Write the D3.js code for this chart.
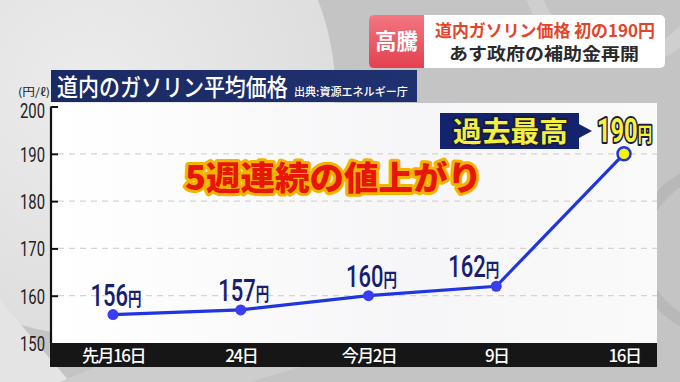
<!DOCTYPE html>
<html><head><meta charset="utf-8">
<script src="https://cdn.jsdelivr.net/npm/d3@7"></script>
<style>
html,body{margin:0;padding:0;background:#cfcfcf;}
svg{display:block;}
</style></head>
<body>
<script>
const categories = ["先月16日", "24日", "今月2日", "9日", "16日"];
const prices = [156, 157, 160, 162, 190];
const yTicks = [150, 160, 170, 180, 190, 200];
const titleText = "道内のガソリン平均価格";
const sourceText = "出典:資源エネルギー庁";
const unitText = "(円/ℓ)";
const badgeTag = "高騰";
const badgeLine1 = "道内ガソリン価格 初の190円";
const badgeLine2 = "あす政府の補助金再開";
const callout = "5週連続の値上がり";
const recordText = "過去最高";
const yenText = "円";

const W = 680, H = 382;
const JP = "'Noto Sans CJK JP','Noto Sans',sans-serif";
const NUM = "'Roboto','Noto Sans',sans-serif";

const svg = d3.select("body").append("svg").attr("width", W).attr("height", H);
const defs = svg.append("defs");

// text squeezed horizontally to a given width (via transform)
function fitText(parent, str, xPos, yPos, width, style) {
  const g = parent.append("g");
  const layers = style.outline ? [[style.outline, style.sw || 4], [style.fill, 0]] : [[style.fill, 0]];
  let t;
  layers.forEach(([col, sw]) => {
    t = g.append("text").attr("x",0).attr("y",0).text(str)
      .attr("font-family", style.family || JP).attr("font-size", style.size).attr("font-weight", style.weight || 400)
      .attr("fill", sw ? "none" : col).attr("stroke", sw ? col : "none")
      .attr("stroke-width", sw).attr("stroke-linejoin","round");
  });
  const s = width / t.node().getComputedTextLength();
  g.attr("transform", `translate(${xPos},${yPos}) scale(${s},1)`);
  return g;
}

// background
svg.append("rect").attr("width",W).attr("height",H).attr("fill","#c4c4c4");
const rg = defs.append("radialGradient").attr("id","lightc");
rg.append("stop").attr("offset","0%").attr("stop-color","#ececec");
rg.append("stop").attr("offset","100%").attr("stop-color","#dedede");
svg.append("circle").attr("cx",90).attr("cy",90).attr("r",245).attr("fill","url(#lightc)");
svg.append("path").attr("d","M0,382 L0,300 L70,382 Z").attr("fill","#e4e4e4");
svg.append("path").attr("d","M60,382 L95,367 L300,367 L250,382 Z").attr("fill","#cdcdcd");
svg.append("circle").attr("cx",720).attr("cy",250).attr("r",80).attr("fill","none").attr("stroke","#b4b4b4").attr("stroke-width",12).attr("opacity",0.7);
svg.append("circle").attr("cx",620).attr("cy",-30).attr("r",90).attr("fill","none").attr("stroke","#d4d4d4").attr("stroke-width",16).attr("opacity",0.7);

// scales
const x = d3.scalePoint().domain(categories).range([113, 624]);
const y = d3.scaleLinear().domain([150, 200]).range([343, 106.5]);
const left = 51, right = 657;

// plot panel
const pg = defs.append("linearGradient").attr("id","pg").attr("x1",0).attr("y1",0).attr("x2",1).attr("y2",0);
pg.append("stop").attr("offset","0%").attr("stop-color","#ffffff");
pg.append("stop").attr("offset","60%").attr("stop-color","#f6f6f8");
pg.append("stop").attr("offset","100%").attr("stop-color","#fafafa");
svg.append("rect").attr("x",left).attr("y",103).attr("width",right-left).attr("height",343-103).attr("fill","url(#pg)");

// grid
svg.append("g").selectAll("line").data(yTicks.filter(t => t > 150 && t < 200)).join("line")
  .attr("x1", left+7).attr("x2", right).attr("y1", d => y(d)).attr("y2", d => y(d))
  .attr("stroke","#d4d4d4").attr("stroke-width",1.2).attr("stroke-dasharray","6,5");

// y axis
const yAxis = d3.axisLeft(y).tickValues(yTicks).tickSize(-7).tickPadding(6).tickFormat(d3.format("d"));
const ya = svg.append("g").attr("transform",`translate(${left},0)`).call(yAxis);
ya.select(".domain").attr("stroke","#111").attr("stroke-width",2.2).attr("d",`M0,${y(150)}V${y(200)}`);
ya.selectAll(".tick line").attr("stroke","#111").attr("stroke-width",2);
ya.selectAll(".tick").filter(d => d === 150).select("line").remove();
ya.selectAll(".tick text").attr("x",-6).attr("fill","#222").attr("font-family",NUM).attr("font-size",21)
  .attr("dy","0.36em").attr("textLength",25).attr("lengthAdjust","spacingAndGlyphs");
ya.selectAll(".tick").filter(d => d === 200).select("text").attr("dy","0.5em");
fitText(svg, unitText, 18, 96, 32, {fill:"#222", size:11});

// x axis bar
svg.append("rect").attr("x",left-1).attr("y",343).attr("width",right-left+1).attr("height",24).attr("fill","#161616");
const xAxis = d3.axisBottom(x).tickSize(0).tickPadding(0);
const xa = svg.append("g").attr("transform","translate(0,355.5)").call(xAxis);
xa.select(".domain").remove();
xa.selectAll(".tick text").attr("fill","#fff").attr("font-family",JP).attr("font-size",17).attr("font-weight",500)
  .attr("dy","0.36em").attr("letter-spacing","-1.5px");

// line
const pts = categories.map((c,i) => ({c, v: prices[i]}));
svg.append("path").datum(pts)
  .attr("d", d3.line().x(d => x(d.c)).y(d => y(d.v)))
  .attr("fill","none").attr("stroke","#1f35e0").attr("stroke-width",3.2);
svg.append("g").selectAll("circle").data(pts.slice(0,-1)).join("circle")
  .attr("cx", d => x(d.c)).attr("cy", d => y(d.v)).attr("r",5.5).attr("fill","#3b3ef0");
const last = pts[pts.length-1];
svg.append("circle").attr("cx",x(last.c)).attr("cy",y(last.v)).attr("r",6.5)
  .attr("fill","#f2f20a").attr("stroke","#1f35e0").attr("stroke-width",2.5);

// condensed value label: number + 円 in one text, horizontally squeezed
function valueLabel(parent, v, xPos, baseY, anchor, opts) {
  const g = parent.append("g");
  const layers = opts.outline ? [[opts.outline, 4], [opts.fill, 0]] : [[opts.fill, 0]];
  const texts = layers.map(([col, sw]) => {
    const t = g.append("text").attr("x",0).attr("y",0)
      .attr("fill", sw ? "none" : col).attr("stroke", sw ? col : "none")
      .attr("stroke-width", sw).attr("stroke-linejoin","round");
    t.append("tspan").text(v).attr("font-family", NUM).attr("font-size", opts.size).attr("font-weight", opts.weight || 500);
    t.append("tspan").text(yenText).attr("font-family", JP).attr("font-size", opts.yen || 19).attr("font-weight", 700);
    return t;
  });
  const natural = texts[texts.length-1].node().getComputedTextLength();
  const s = opts.width / natural;
  const x0 = anchor === "end" ? xPos - opts.width : anchor === "middle" ? xPos - opts.width/2 : xPos;
  g.attr("transform", `translate(${x0},${baseY}) scale(${s},1)`);
}

const lab = svg.append("g");
pts.slice(0,-1).forEach((d,i) => {
  const isLeft = i === pts.length-2;
  valueLabel(lab, d.v, x(d.c) + 3, y(d.v) - 9, isLeft ? "end" : "middle", {fill:"#17206e", size:31, width:51});
});

// title bar
const tb = defs.append("linearGradient").attr("id","tb").attr("x1",0).attr("y1",0).attr("x2",1).attr("y2",0);
tb.append("stop").attr("offset","0%").attr("stop-color","#1a2a63");
tb.append("stop").attr("offset","100%").attr("stop-color","#1f3170");
svg.append("rect").attr("x",left).attr("y",70).attr("width",417-left).attr("height",32).attr("fill","url(#tb)");
fitText(svg, titleText, 57, 95.5, 231, {fill:"#fff", size:24, weight:500});
fitText(svg, sourceText, 294, 96, 114, {fill:"#fff", size:11.5, weight:500});

// callout text
fitText(svg, callout, 185, 190, 297, {fill:"#e81509", outline:"#f3b400", sw:6, size:33.5, weight:900});

// record box
svg.append("path").attr("d","M440,113 H579 V124 L592,131 L579,138 V149 H440 Z").attr("fill","#14236e");
fitText(svg, recordText, 453, 142, 115, {fill:"#f2f043", outline:"#1b1b40", sw:4, size:28, weight:700});
valueLabel(svg.append("g"), last.v, 597, 142, "start", {fill:"#f5f23a", outline:"#1b1b40", size:33, weight:700, yen:20, width:55});

// badge
const bgr = defs.append("linearGradient").attr("id","bgr").attr("x1",0).attr("y1",0).attr("x2",0).attr("y2",1);
bgr.append("stop").attr("offset","0%").attr("stop-color","#f37782");
bgr.append("stop").attr("offset","100%").attr("stop-color","#e2404f");
svg.append("rect").attr("x",369).attr("y",15).attr("width",296).attr("height",53).attr("rx",5).attr("fill","#ffffff");
svg.append("path").attr("d","M374,15 H424 V68 H374 Q369,68 369,63 V20 Q369,15 374,15 Z").attr("fill","url(#bgr)");
svg.append("text").attr("x",396.5).attr("y",49).attr("text-anchor","middle").text(badgeTag)
  .attr("fill","#fff").attr("font-family",JP).attr("font-size",21.5).attr("font-weight",700);
fitText(svg, badgeLine1, 435, 36.5, 220, {fill:"#e2462a", size:17, weight:700});
fitText(svg, badgeLine2, 449, 60, 190, {fill:"#2a2a2a", size:17, weight:700});
</script>
</body></html>
